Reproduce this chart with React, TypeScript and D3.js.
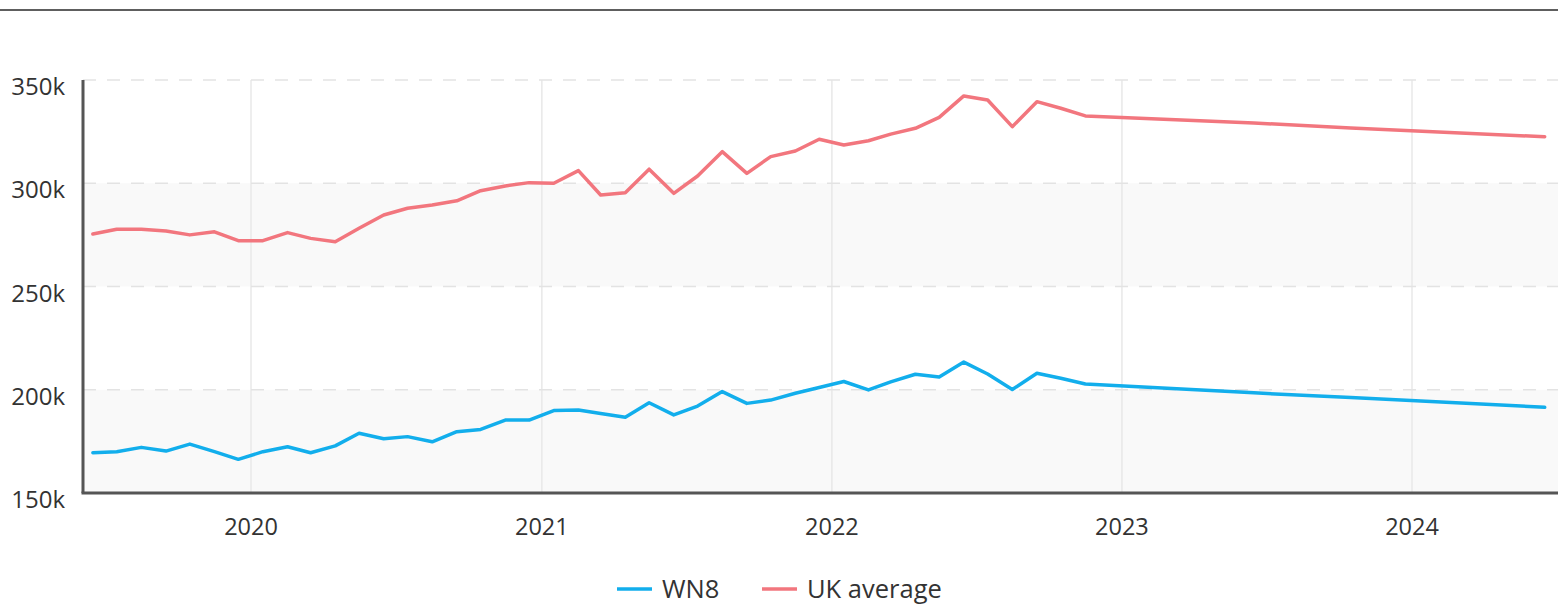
import React, { useEffect } from "react";
import * as d3 from "d3";

// monthly points (mid-month), then a few sparse points at the end
const dates = [
  "2019-06-16", "2019-07-16", "2019-08-16", "2019-09-16", "2019-10-16", "2019-11-16", "2019-12-16",
  "2020-01-16", "2020-02-16", "2020-03-16", "2020-04-16", "2020-05-16", "2020-06-16", "2020-07-16",
  "2020-08-16", "2020-09-16", "2020-10-16", "2020-11-16", "2020-12-16", "2021-01-16", "2021-02-16",
  "2021-03-16", "2021-04-16", "2021-05-16", "2021-06-16", "2021-07-16", "2021-08-16", "2021-09-16",
  "2021-10-16", "2021-11-16", "2021-12-16", "2022-01-16", "2022-02-16", "2022-03-16", "2022-04-16",
  "2022-05-16", "2022-06-16", "2022-07-16", "2022-08-16", "2022-09-16", "2022-10-16", "2022-11-16",
  "2023-06-16", "2023-10-16", "2024-06-16",
];

// values in thousands
const wn8 = [
  169.5, 170.0, 172.1, 170.3, 173.7, 170.0, 166.3,
  170.0, 172.4, 169.5, 172.8, 178.9, 176.3, 177.3,
  174.8, 179.7, 180.8, 185.3, 185.3, 189.9, 190.2,
  188.5, 186.7, 193.7, 187.8, 192.1, 199.1, 193.4,
  195.0, 198.3, 201.1, 204.0, 199.9, 203.8, 207.5,
  206.2, 213.4, 207.6, 200.1, 208.0, 205.6, 202.8,
  198.5, 196.2, 191.5,
];

const ukAverage = [
  275.4, 277.7, 277.7, 276.9, 275.0, 276.5, 272.2,
  272.2, 276.1, 273.3, 271.7, 278.2, 284.6, 287.9,
  289.5, 291.5, 296.4, 298.7, 300.3, 300.0, 306.1,
  294.3, 295.4, 306.8, 295.1, 303.5, 315.3, 304.8,
  312.9, 315.6, 321.3, 318.5, 320.6, 323.8, 326.6,
  331.9, 342.3, 340.3, 327.4, 339.5, 336.3, 332.6,
  329.2, 326.8, 322.5,
];

const yTicks = [150, 200, 250, 300, 350];
const bands = [[150, 200], [250, 300]];
const yearTicks = [2020, 2021, 2022, 2023, 2024];

const series = [
  { name: "WN8", values: wn8, color: "#12aeec" },
  { name: "UK average", values: ukAverage, color: "#f2767e" },
];

const W = 1558;
const H = 606;
const left = 83;
const right = 1558;
const top = 80;
const bottom = 493;

export default function App() {
  useEffect(() => {
    document.body.style.margin = "0";
  }, []);

  const parse = d3.timeParse("%Y-%m-%d");
  const parsed = dates.map((d) => parse(d) as Date);

  const x = d3
    .scaleTime()
    .domain([new Date(2020, 0, 1), new Date(2024, 0, 1)])
    .range([251, 1412]);
  const y = d3.scaleLinear().domain([150, 350]).range([bottom, top]);

  const line = d3
    .line<number>()
    .x((_, i) => x(parsed[i]))
    .y((d) => y(d));

  const font = "'Open Sans', 'Noto Sans', sans-serif";

  return (
    <svg width={W} height={H} style={{ display: "block", background: "#fff" }}>
      <defs>
        <clipPath id="plot">
          <rect x={left} y={top - 10} width={right - left} height={bottom - top + 10} />
        </clipPath>
      </defs>
      <line x1={0} x2={W} y1={10} y2={10} stroke="#5e5e5e" strokeWidth={2.2} />

      {bands.map(([a, b]) => (
        <rect key={a} x={left} y={y(b)} width={right - left} height={y(a) - y(b)} fill="#f9f9f9" />
      ))}

      {yearTicks.map((yr) => {
        const xx = x(new Date(yr, 0, 1));
        return (
          <g key={yr}>
            <line x1={xx} x2={xx} y1={top} y2={bottom} stroke="#e8e8e8" strokeWidth={1.5} />
            <text x={xx} y={535} textAnchor="middle" fontFamily={font} fontSize={23.5} fill="#333">
              {yr}
            </text>
          </g>
        );
      })}

      {yTicks.map((t) => (
        <g key={t}>
          {t > 150 && (
            <line
              x1={left}
              x2={right}
              y1={y(t)}
              y2={y(t)}
              stroke="#e3e3e3"
              strokeWidth={1.5}
              strokeDasharray="13,11"
            />
          )}
          <text x={65} y={y(t) + 15} textAnchor="end" fontFamily={font} fontSize={24} fill="#333">
            {`${t}k`}
          </text>
        </g>
      ))}

      <g clipPath="url(#plot)">
        {series.map((s) => (
          <path
            key={s.name}
            d={line(s.values) || ""}
            fill="none"
            stroke={s.color}
            strokeWidth={3.5}
            strokeLinejoin="round"
            strokeLinecap="round"
          />
        ))}
      </g>

      <line x1={left} x2={left} y1={top} y2={bottom} stroke="#555" strokeWidth={3} />
      <line x1={left - 1.5} x2={right} y1={bottom} y2={bottom} stroke="#555" strokeWidth={3} />

      <g fontFamily={font} fontSize={25.5} fill="#333">
        <line x1={617} x2={652} y1={589} y2={589} stroke={series[0].color} strokeWidth={3.5} />
        <text x={662} y={598}>{series[0].name}</text>
        <line x1={762} x2={797} y1={589} y2={589} stroke={series[1].color} strokeWidth={3.5} />
        <text x={807} y={598}>{series[1].name}</text>
      </g>
    </svg>
  );
}
